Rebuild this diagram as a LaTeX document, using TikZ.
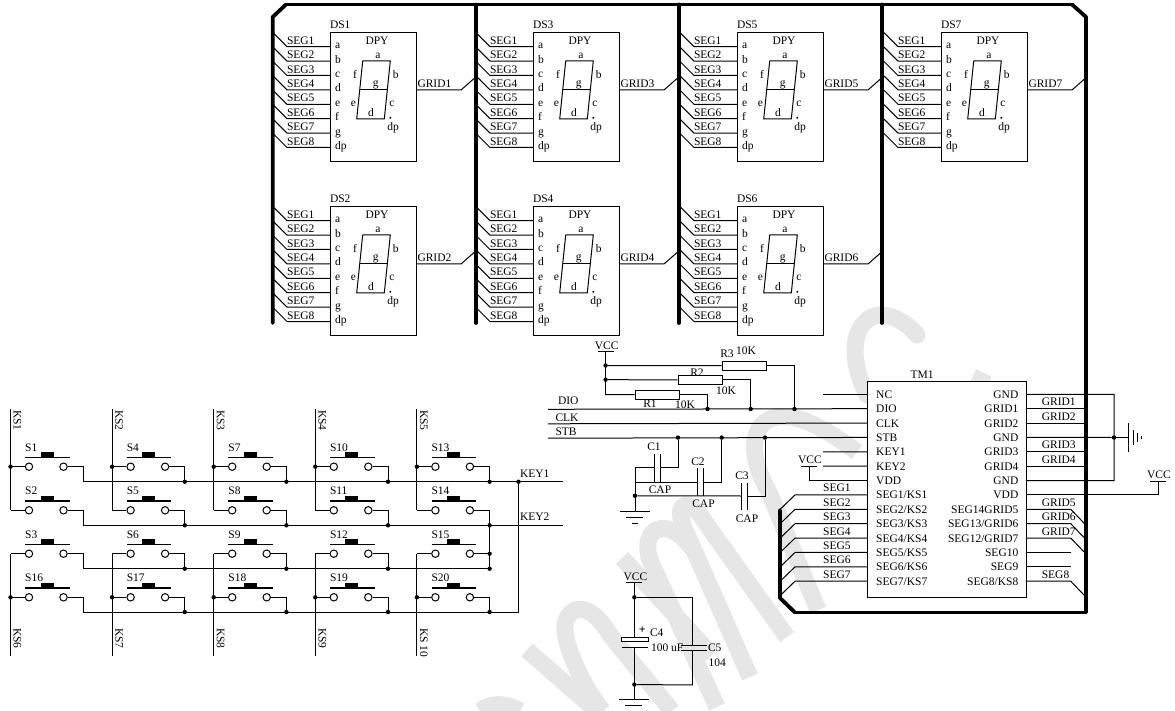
\documentclass[tikz,border=0pt]{standalone}
\usepackage{fontspec}
\setmainfont{Liberation Serif}
\usetikzlibrary{calc}
\definecolor{wmgrey}{HTML}{E6E6E6}
\tikzset{
  wire/.style={line width=1pt},
  thinw/.style={line width=0.8pt},
  busw/.style={line width=3.8pt,line cap=round,line join=round},
  toplw/.style={line width=2.4pt,line join=round},
  partbox/.style={draw,line width=0.7pt,fill=white,inner sep=0pt},
  lbl/.style={inner sep=0pt,outer sep=0pt,font=\fontsize{11.5}{12}\selectfont},
  bw/.style={lbl,anchor=base west},
  be/.style={lbl,anchor=base east},
  bc/.style={lbl,anchor=base},
  junc/.style={circle,fill=black,inner sep=0pt,minimum size=4.4pt},
  contact/.style={circle,draw,line width=1pt,fill=white,inner sep=0pt,minimum size=7.4pt},
  resbox/.style={draw,line width=1pt,fill=white,inner sep=0pt,minimum width=44pt,minimum height=8.6pt},
  plate/.style={line width=1.1pt},
  wm/.style={line width=17pt,draw=wmgrey,line cap=butt,line join=round},
  wmr/.style={wm,line cap=round},
}
\newcommand\gndsym[1]{%
  \draw[wire] ($(#1)+(-15,0)$) -- ($(#1)+(15,0)$);
  \draw[wire] ($(#1)+(-9,6)$) -- ($(#1)+(8,6)$);
  \draw[wire] ($(#1)+(-3.5,12)$) -- ($(#1)+(3,12)$);
}
\newcommand\vccsym[3]{% name, x, y of bar
  \coordinate (#1) at (#2,#3);
  \draw[wire] ($(#1)+(-8,0)$) -- ($(#1)+(8,0)$);
  \node[bc] (#1t) at ($(#1)+(1,-2.6)$) {VCC};
}
\newcommand\dispunit[4]{%
\begin{scope}[shift={(#2,#3)}]
  \node[partbox,minimum width=86pt,minimum height=129pt,anchor=north west] (#1) at (0,0) {};
  \node[bw] (#1r) at (0,-3) {#1};
  \node[bc] (#1n) at (47,13) {DPY};
  \foreach \i/\p in {1/a,2/b,3/c,4/d,5/e,6/f,7/g,8/dp}{
    \coordinate (#1p\i) at (0,{14.7+14.4*(\i-1)});
    \coordinate (#1b\i) at (-43,{14.7+14.4*(\i-1)});
    \coordinate (#1t\i) at (-57,{0.7+14.4*(\i-1)});
    \draw[wire] (#1p\i) -- (#1b\i) -- (#1t\i);
    \node[bw,name=#1s\i] at ($(#1b\i)+(0,-2.4)$) {SEG\i};
    \node[bw,name=#1l\i] at ($(#1p\i)+(5,2)$) {\p};
  }
  \coordinate (#1g0) at (86,58);
  \coordinate (#1g1) at (131,58);
  \coordinate (#1g2) at (145.2,45.5);
  \draw[wire] (#1g0) -- (#1g1) -- (#1g2);
  \node[bw] (#1gl) at (87.5,56) {#4};
  \coordinate (#1A) at (32.7,29);
  \coordinate (#1B) at (60.3,29);
  \coordinate (#1C) at (57.3,58);
  \coordinate (#1D) at (54.3,87);
  \coordinate (#1E) at (26.7,87);
  \coordinate (#1F) at (29.7,58);
  \draw[wire,line join=round] (#1A) -- (#1B) -- (#1D) -- (#1E) -- (#1A);
  \draw[wire] (#1F) -- (#1C);
  \fill (60.3,85.8) circle (1.1);
  \node[bc] (#1sa) at (48,26.3) {a};
  \node[bc] (#1sb) at (65.7,46.7) {b};
  \node[bc] (#1sf) at (25,46.7) {f};
  \node[bc] (#1sg) at (45.7,55) {g};
  \node[bc] (#1se) at (23.3,75) {e};
  \node[bc] (#1sc) at (62,75) {c};
  \node[bc] (#1sd) at (41,84.7) {d};
  \node[bc] (#1sp) at (63,99) {dp};
\end{scope}}
\begin{document}
\begin{tikzpicture}[x=1pt,y=-1pt]
\useasboundingbox (0,0) rectangle (1175,711);
% watermark
\draw[wmr] (917,335) .. controls (905,320) and (882,308) .. (867,320) .. controls (850,335) and (852,365) .. (867,395);
\draw[wm] (972,397) -- (984,373);
\draw[wm] (857,452) .. controls (825,428) and (790,408) .. (768,420) .. controls (748,432) and (752,462) .. (768,490) -- (818,610);
\draw[wm] (787,637) -- (705,522) .. controls (690,497) and (672,500) .. (685,530) -- (750,677);
\draw[wm] (717,707) -- (650,560) .. controls (640,530) and (665,513) .. (692,548);
\draw[wm] (622,558) -- (712,655);
\draw[wm] (672,711) -- (610,635) .. controls (590,600) and (568,605) .. (565,625) .. controls (563,645) and (585,690) .. (603,711);
\draw[wm] (527,650) -- (597,711);
\draw[wm] (480,711) .. controls (490,703) and (505,702) .. (520,711);
% bus
\coordinate (busA) at (272.7,323);
\coordinate (busB) at (272.7,17);
\coordinate (busC) at (286,4.5);
\coordinate (busD) at (1072,4.5);
\coordinate (busE) at (1086,17);
\coordinate (busF) at (1086,612.5);
\coordinate (busG) at (795,612.5);
\coordinate (busH) at (780,598);
\coordinate (busI) at (780,510);
\coordinate (bus3a) at (475.7,4.5);\coordinate (bus3b) at (475.7,323);
\coordinate (bus5a) at (679,4.5);\coordinate (bus5b) at (679,323);
\coordinate (bus7a) at (882,4.5);\coordinate (bus7b) at (882,323);
\draw[busw] (busA) -- (busB) -- (busC);
\draw[toplw] (busC) -- (busD);
\draw[busw] (busD) -- (busE) -- (busF);
\draw[toplw,line width=3pt] (busF) -- (busG);
\draw[busw] (busG) -- (busH) -- (busI);
\draw[busw] (bus3a) -- (bus3b);
\draw[busw] (bus5a) -- (bus5b);
\draw[busw] (bus7a) -- (bus7b);
% displays
\dispunit{DS1}{330}{32}{GRID1}
\dispunit{DS3}{533}{32}{GRID3}
\dispunit{DS5}{737}{32}{GRID5}
\dispunit{DS7}{941}{32}{GRID7}
\dispunit{DS2}{330}{206}{GRID2}
\dispunit{DS4}{533}{206}{GRID4}
\dispunit{DS6}{737}{206}{GRID6}
% key matrix
\foreach \r/\y/\b in {1/466.7/481.7,2/510.3/525.3,3/553.7/568.7,4/597.3/612}{
  \coordinate (row\r) at (0,\y);
  \coordinate (kbus\r) at (0,\b);
}
\foreach \c in {1,...,5}{
  \coordinate (col\c) at ({10.5+101.6*(\c-1)},0);
  \coordinate (out\c) at ({83.2+101.6*(\c-1)},0);
  \coordinate (coltop\c) at ({10.5+101.6*(\c-1)},409);
  \coordinate (colbot\c) at ({10.5+101.6*(\c-1)},656);
  \draw[wire] (coltop\c) -- (col\c |- row2);
  \draw[wire] (colbot\c) -- (col\c |- row3);
  \node[junc] (jt\c) at (col\c |- row1) {};
  \node[junc] (jb\c) at (col\c |- row4) {};
}
\foreach \n/\t/\c in {k1/KS1/1,k2/KS2/2,k3/KS3/3,k4/KS4/4,k5/KS5/5}{
  \node[lbl,rotate=-90,anchor=base west] (\n) at ($(coltop\c)+(3.2,1)$) {\t};
}
\foreach \n/\t/\c in {k6/KS6/1,k7/KS7/2,k8/KS8/3,k9/KS9/4,k10/KS 10/5}{
  \node[lbl,rotate=-90,anchor=base west] (\n) at ($(colbot\c)+(3.2,-28)$) {\t};
}
\foreach \t/\c/\r in {S1/1/1,S4/2/1,S7/3/1,S10/4/1,S13/5/1,
                      S2/1/2,S5/2/2,S8/3/2,S11/4/2,S14/5/2,
                      S3/1/3,S6/2/3,S9/3/3,S12/4/3,S15/5/3,
                      S16/1/4,S17/2/4,S18/3/4,S19/4/4,S20/5/4}{
  \node[contact] (\t a) at ($(col\c |- row\r)+(18.5,0)$) {};
  \node[contact] (\t b) at ($(col\c |- row\r)+(53,0)$) {};
  \draw[wire] (col\c |- row\r) -- (\t a.west);
  \draw[wire] (\t b.east) -| (out\c |- kbus\r);
  \draw[line width=1.5pt] ($(\t a)+(-3.8,-9.4)$) -- ($(\t b)+(6.2,-9.4)$);
  \fill ($(\t a)+(11.6,-14.4)$) rectangle ($(\t a)+(24.6,-9.4)$);
  \node[bw] (\t l) at ($(\t a)+(-3.8,-15.5)$) {\t};
}
\coordinate (keya) at (563,481.7);
\coordinate (keyb) at (563,525.3);
\coordinate (keyc) at (489.6,568.7);
\coordinate (keyd) at (518.5,612);
\draw[wire] (out1 |- kbus1) -- (keya);
\draw[wire] (out1 |- kbus2) -- (keyb);
\draw[wire] (out1 |- kbus3) -- (keyc);
\draw[wire] (out1 |- kbus4) -- (keyd);
\draw[wire] (keyd) -- (keyd |- kbus1);
\draw[wire] (keyc) -- (keyc |- kbus2);
\foreach \c in {2,...,5}{\foreach \r in {1,2,3,4}{
  \node[junc,name=kj\c\r] at (out\c |- kbus\r) {};
}}
\node[junc] (jk1) at (keyd |- kbus1) {};
\node[junc] (jk2) at (keyc |- row3) {};
\node[bw] (key1t) at (520,477) {KEY1};
\node[bw] (key2t) at (520,520.5) {KEY2};
% TM1
\node[partbox,minimum width=158.6pt,minimum height=216pt,anchor=north west] (TM) at (867.2,380.7) {};
\node[bc] (TMr) at (922,378) {TM1};
\foreach \i/\t in {1/NC,2/DIO,3/CLK,4/STB,5/KEY1,6/KEY2,7/VDD,8/{SEG1/KS1},9/{SEG2/KS2},10/{SEG3/KS3},11/{SEG4/KS4},12/{SEG5/KS5},13/{SEG6/KS6},14/{SEG7/KS7}}{
  \coordinate (TL\i) at (867.2,{394.3+14.38*(\i-1)});
  \node[bw,name=TLt\i] at ($(TL\i)+(9,4)$) {\t};
}
\foreach \i/\t in {1/GND,2/GRID1,3/GRID2,4/GND,5/GRID3,6/GRID4,7/GND,8/VDD,9/SEG14GRID5,10/{SEG13/GRID6},11/{SEG12/GRID7},12/SEG10,13/SEG9,14/{SEG8/KS8}}{
  \coordinate (TR\i) at (1025.8,{394.3+14.38*(\i-1)});
  \node[be,name=TRt\i] at ($(TR\i)+(-7.5,4)$) {\t};
}
% TM1 left wires
\coordinate (ncEnd) at (823,394.3);
\coordinate (k1End) at (823,451.8);
\coordinate (k2End) at (823,466.2);
\draw[wire] (TL1) -- (ncEnd);
\draw[wire] (TL5) -- (k1End);
\draw[wire] (TL6) -- (k2End);
\vccsym{vccA}{809}{466}
\draw[wire] (vccA) |- (TL7);
\foreach \i/\t in {8/SEG1,9/SEG2,10/SEG3,11/SEG4,12/SEG5,13/SEG6,14/SEG7}{
  \coordinate (sl\i) at ($(TL\i)+(-72.2,0)$);
  \coordinate (st\i) at ($(TL\i)+(-87.2,14.5)$);
  \draw[wire] (TL\i) -- (sl\i) -- (st\i);
  \node[bw,name=slt\i] at ($(TL\i)+(-44,-3)$) {\t};
}
% TM1 right wires
\coordinate (gndX) at (1114,394.3);
\coordinate (gndY) at (1114,480.6);
\draw[wire] (TR1) -- (gndX) -- (gndY) -- (TR7);
\node[junc] (jg) at (1114,437.5) {};
\draw[wire] (TR4) -- (jg);
\coordinate (gR) at (1128.3,437.5);
\draw[wire] (jg) -- (gR);
\draw[wire] ($(gR)+(0,-14.5)$) -- ($(gR)+(0,14.5)$);
\draw[wire] ($(gR)+(5,-7.5)$) -- ($(gR)+(5,7.5)$);
\draw[wire] ($(gR)+(9,-4.5)$) -- ($(gR)+(9,4.5)$);
\draw[wire] ($(gR)+(13.5,-1.5)$) -- ($(gR)+(13.5,1.5)$);
\vccsym{vccB}{1158}{481.5}
\draw[wire] (TR8) -| (vccB);
\foreach \i/\t in {2/GRID1,3/GRID2,5/GRID3,6/GRID4}{
  \coordinate (gr\i) at ($(TR\i)+(58.4,0)$);
  \draw[wire] (TR\i) -- (gr\i);
  \node[bw,name=grt\i] at ($(TR\i)+(16,-3)$) {\t};
}
\foreach \i/\t in {9/GRID5,10/GRID6,11/GRID7,14/SEG8}{
  \coordinate (gk\i) at ($(TR\i)+(45,0)$);
  \coordinate (ge\i) at ($(TR\i)+(58.4,14)$);
  \draw[wire] (TR\i) -- (gk\i) -- (ge\i);
  \node[bw,name=grt\i] at ($(TR\i)+(16,-3)$) {\t};
}
\coordinate (sg12) at ($(TR12)+(45,0)$);
\coordinate (sg13) at ($(TR13)+(45,0)$);
\draw[wire] (TR12) -- (sg12);
\draw[wire] (TR13) -- (sg13);
% signals
\coordinate (dioS) at (548,409.3);
\coordinate (clkS) at (548,423.8);
\coordinate (stbS) at (548,438.2);
\draw[wire] (dioS) -- (TL2);
\draw[wire] (clkS) -- (TL3);
\draw[wire] (stbS) -- (TL4);
\node[bw] (dioT) at (558,404) {DIO};
\node[bw] (clkT) at (555.5,421) {CLK};
\node[bw] (stbT) at (555.5,435) {STB};
% resistors
\vccsym{vccC}{605.6}{351.7}
\node[junc] (jv1) at (605.6,365.5) {};
\node[junc] (jv2) at (605.6,379.7) {};
\coordinate (jv3) at (605.6,394.6);
\draw[wire] (vccC) -- (jv3);
\node[resbox] (R3) at (744,365.7) {};
\node[resbox] (R2) at (700,379.9) {};
\node[resbox] (R1) at (657,394.7) {};
\node[junc] (dioA) at (707.5,409) {};
\node[junc] (dioB) at (750.7,409) {};
\node[junc] (dioC) at (794.5,409) {};
\draw[wire] (jv1) -- (R3);
\draw[wire] (jv2) -- (R2);
\draw[wire] (jv3) -- (R1);
\draw[wire] (R1) -| (dioA);
\draw[wire] (R2) -| (dioB);
\draw[wire] (R3) -| (dioC);
\node[bc] (R3t) at (727,357.5) {R3};
\node[bw] (R3v) at (736,354) {10K};
\node[bc] (R2t) at (697,376) {R2};
\node[bw] (R2v) at (716,394) {10K};
\node[bc] (R1t) at (650,407) {R1};
\node[bw] (R1v) at (675,408) {10K};
% capacitors
\node[junc] (st1) at (678,437.6) {};
\node[junc] (st2) at (721.7,437.6) {};
\node[junc] (st3) at (765,437.6) {};
\node[junc] (gc) at (635,495.8) {};
\coordinate (gcT) at (635,467);
\coordinate (gcG) at (635,511);
\coordinate (gcM) at (635,482);
\coordinate (c1a) at (654.4,467);\coordinate (c1b) at (660.2,467);
\coordinate (c2a) at (697.4,482);\coordinate (c2b) at (703.4,482);
\coordinate (c3a) at (741.4,496);\coordinate (c3b) at (747.4,496);
\draw[plate] (654.4,454.3) -- (654.4,481.7);
\draw[plate] (660.2,454.3) -- (660.2,481.7);
\draw[plate] (697.4,468.3) -- (697.4,495.7);
\draw[plate] (703.4,468.3) -- (703.4,495.7);
\draw[plate] (741.4,483.3) -- (741.4,510);
\draw[plate] (747.4,483.3) -- (747.4,510);
\draw[wire] (st1) |- (c1b);
\draw[wire] (c1a) -- (gcT) -- (gcG);
\draw[wire] (st2) |- (c2b);
\draw[wire] (c2a) -- (gcM);
\draw[wire] (st3) |- (c3b);
\draw[wire] (c3a) -- (gc);
\gndsym{gcG}
\node[bc] (C1t) at (654,450.5) {C1};
\node[bc] (C1v) at (660,493) {CAP};
\node[bc] (C2t) at (698,465) {C2};
\node[bc] (C2v) at (703.5,507) {CAP};
\node[bc] (C3t) at (742,479.5) {C3};
\node[bc] (C3v) at (747,522) {CAP};
% C4, C5
\vccsym{vccD}{634.4}{582.7}
\node[junc] (d1) at (634.4,597.3) {};
\node[junc] (d2) at (634.4,684.5) {};
\coordinate (c5top) at (692.7,597.3);
\coordinate (c5bot) at (692.7,685);
\coordinate (g2) at (634.4,699.3);
\node[partbox,line width=1pt,minimum width=26.6pt,minimum height=4.6pt] (C4) at (635,639.5) {};
\coordinate (c4p) at (634.4,647.3);
\draw[wire] (vccD) -- (C4.north -| vccD);
\draw[wire] (c4p) -- (g2);
\draw[plate] (621.7,647.3) -- (648.3,647.3);
\draw[wire] (d1) -- (c5top) -- (692.7,645.7);
\draw[wire] (c5bot) -- (692.7,650.7);
\draw[wire] (c5bot) -- (d2);
\draw[plate] (680.7,645.7) -- (706.7,645.7);
\draw[plate] (680.7,650.7) -- (706.7,650.7);
\gndsym{g2}
\node[lbl,font=\bfseries\fontsize{12}{12}\selectfont] (C4p) at (642.3,630) {+};
\node[bw] (C4t) at (650,636) {C4};
\node[bw] (C4v) at (651,651) {100 uF};
\node[bw] (C5t) at (708,651) {C5};
\node[bw] (C5v) at (708.5,666) {104};
\end{tikzpicture}
\end{document}
